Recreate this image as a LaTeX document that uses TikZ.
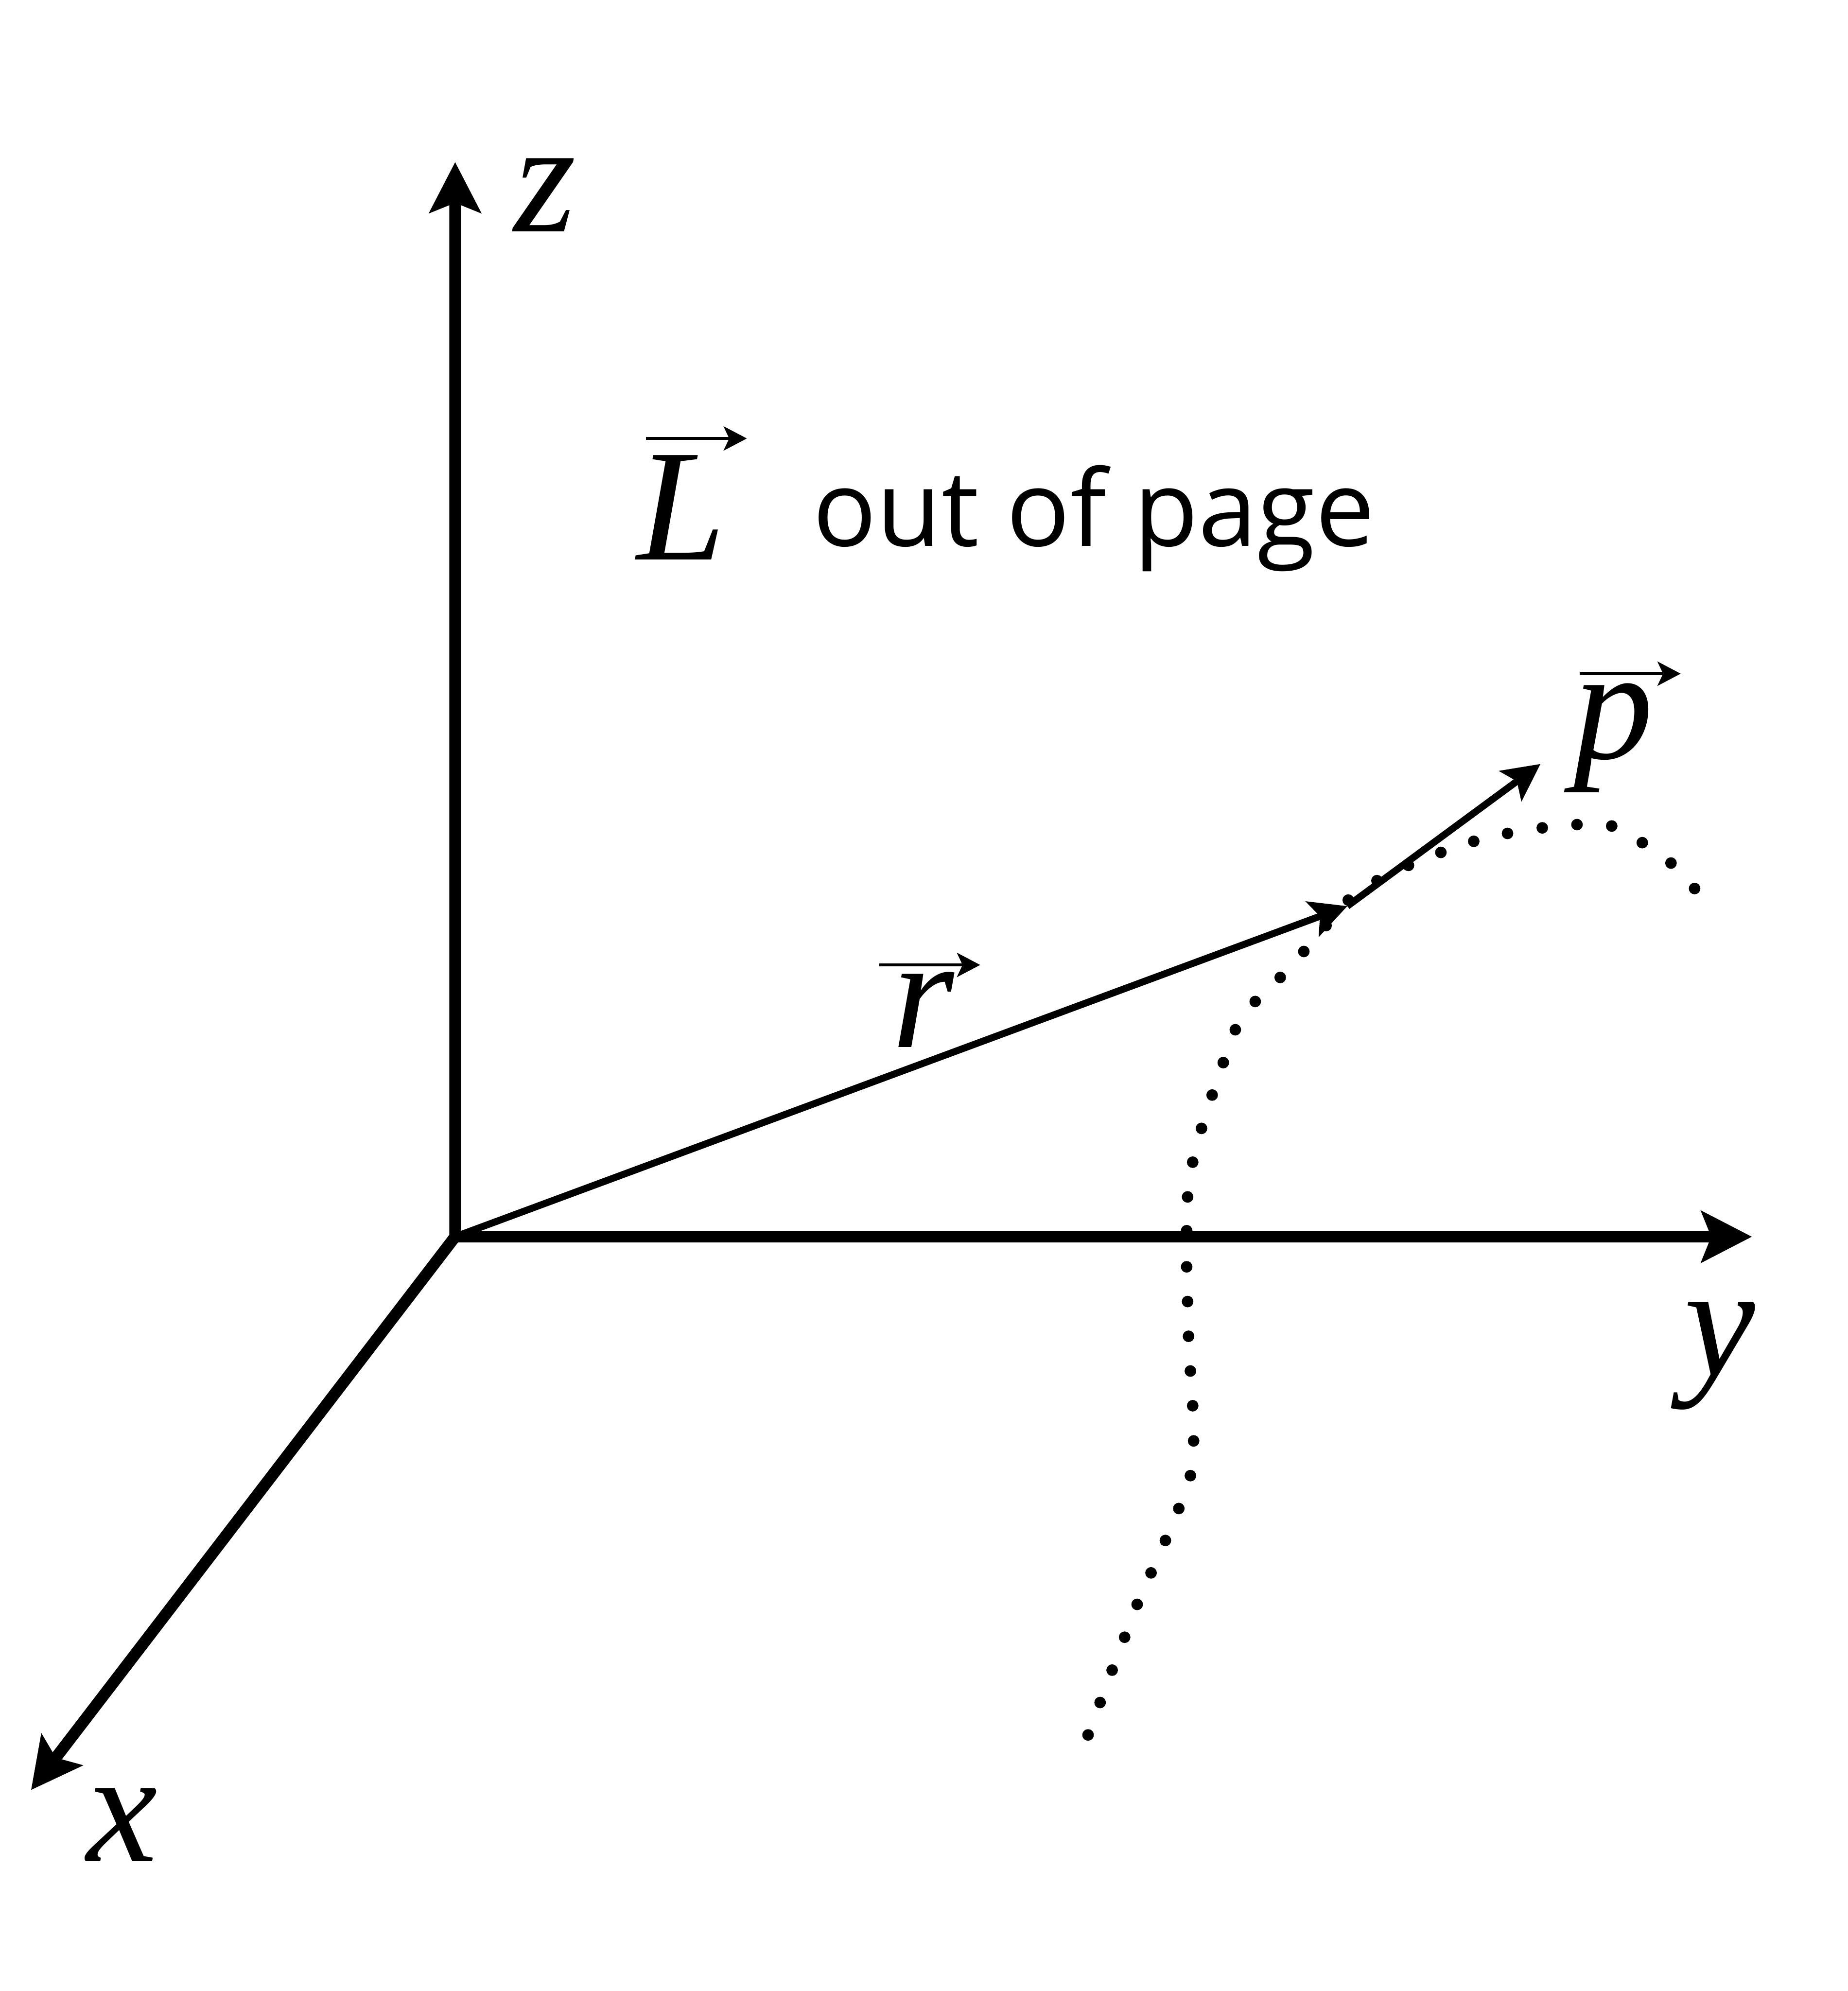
\documentclass[tikz,border=0pt]{standalone}
\usepackage{fontspec}
\usetikzlibrary{arrows.meta}
\newfontfamily\letterfont{Liberation Serif}
\newfontfamily\wordfont{Open Sans}

\tikzset{
  axis/.style={line width=0.25cm, line join=round,
    >={Stealth[length=1.09cm,width=1.1cm,inset=0.21cm]}},
  vecline/.style={line width=0.15cm, line join=round,
    -{Stealth[length=0.8cm,width=0.8cm,inset=0.17cm]}},
  vecbar/.style={line width=0.07cm,
    -{Stealth[length=0.5cm,width=0.52cm,inset=0.12cm]}},
  letter/.style={inner sep=0pt, font=\fontsize{98}{100}\selectfont\letterfont\itshape},
  words/.style={inner sep=0pt, font=\fontsize{65}{70}\selectfont\wordfont},
}

\begin{document}
\begin{tikzpicture}
  \useasboundingbox (0,0) rectangle (39.91,43.00);

  % orbit of the particle
  \foreach \x/\y in {36.60/23.81, 36.09/24.36, 35.47/24.80, 34.81/25.16, 34.06/25.19,
      33.31/25.12, 32.56/25.00, 31.83/24.83, 31.12/24.59, 30.42/24.31, 29.74/23.98,
      29.12/23.56, 28.64/23.01, 28.16/22.45, 27.65/21.89, 27.11/21.37, 26.68/20.76,
      26.42/20.05, 26.18/19.35, 25.95/18.63, 25.76/17.90, 25.65/17.15, 25.63/16.42,
      25.63/15.64, 25.65/14.89, 25.67/14.14, 25.71/13.39, 25.76/12.64, 25.78/11.88,
      25.71/11.13, 25.46/10.42, 25.17/9.73, 24.86/9.03, 24.56/8.35, 24.29/7.64,
      24.02/6.93, 23.76/6.23, 23.50/5.53} {
    \fill (\x,\y) circle (0.125);
  }

  % axes
  \coordinate (O) at (9.83,16.29);
  \coordinate (ztip) at (9.83,39.50);
  \coordinate (ytip) at (37.84,16.29);
  \coordinate (xtip) at (0.67,4.34);
  \draw[axis,<->] (ztip) -- (O) -- (xtip);
  \draw[axis,->] (O) -- (ytip);

  % position and momentum
  \coordinate (rtip) at (29.10,23.43);
  \coordinate (ptip) at (33.27,26.50);
  \draw[vecline] (O) -- (rtip);
  \draw[vecline] (rtip) -- (ptip);

  % labels
  \node[letter,anchor=base] (zlab) at (11.77,38.00) {z};
  \node[letter,anchor=base] (ylab) at (37.15,13.30) {y};
  \node[letter,anchor=base] (xlab) at (2.64,2.80) {x};
  \node[letter,anchor=base] (rlab) at (19.94,20.38) {r};
  \node[letter,anchor=base] (plab) at (34.85,26.62) {p};
  \node[letter,anchor=base] (Llab) at (14.72,30.91) {L};
  \draw[vecbar] ([shift={(-0.95,1.78)}]rlab.base) -- ++(2.18,0);
  \draw[vecbar] ([shift={(-0.73,1.83)}]plab.base) -- ++(2.18,0);
  \draw[vecbar] ([shift={(-0.77,2.62)}]Llab.base) -- ++(2.18,0);
  \node[words,anchor=base west] (outlab) at (17.55,31.20) {out of page};
\end{tikzpicture}
\end{document}
